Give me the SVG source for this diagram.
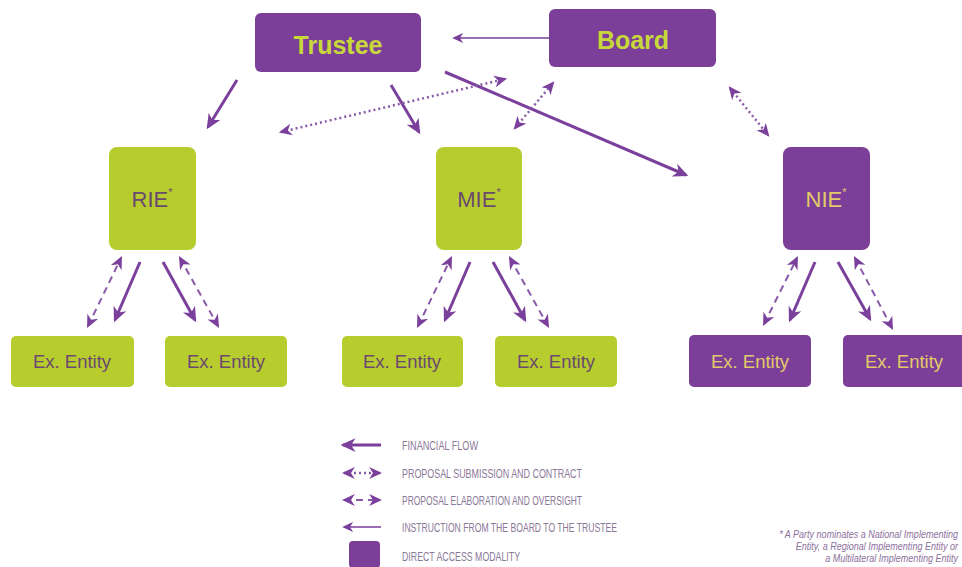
<svg xmlns="http://www.w3.org/2000/svg" width="962" height="567" viewBox="0 0 962 567">
<style>
.p{fill:#7c3f99}
.g{fill:#b7cd2e}
.big{font-family:"Liberation Sans",Arial,sans-serif;font-weight:bold;font-size:25px;fill:#c8d83a;text-anchor:middle}
.mid{font-family:"Liberation Sans",Arial,sans-serif;font-size:22px;text-anchor:middle}
.ent{font-family:"Liberation Sans",Arial,sans-serif;font-size:18.5px;text-anchor:middle}
.gt{fill:#6a4a6e}
.pt{fill:#e2c96a}
.sol{stroke:#7b3f9c;stroke-width:3;fill:none;marker-end:url(#ah)}
.dot{stroke:#8a5aa8;stroke-width:2.5;stroke-dasharray:2 3;fill:none;marker-end:url(#ah2);marker-start:url(#ah2)}
.dsh{stroke:#8a5aa8;stroke-width:2;stroke-dasharray:7 5;fill:none;marker-end:url(#ah2);marker-start:url(#ah2)}
.thin{stroke:#7b3f9c;stroke-width:1.6;fill:none;marker-end:url(#ah3)}
.leg{font-family:"Liberation Sans",Arial,sans-serif;font-size:13.5px;fill:#8a7898}
.fn{font-family:"Liberation Sans",Arial,sans-serif;font-style:italic;font-size:10.5px;fill:#8c6f9c;text-anchor:end}
</style>
<defs>
<marker id="ah" viewBox="0 0 12 12" refX="10" refY="6" markerWidth="15" markerHeight="15" markerUnits="userSpaceOnUse" orient="auto-start-reverse">
<path d="M0,0.5 L12,6 L0,11.5 L3.5,6 z" fill="#7b3f9c"/>
</marker>
<marker id="ah2" viewBox="0 0 12 12" refX="10" refY="6" markerWidth="13" markerHeight="13" markerUnits="userSpaceOnUse" orient="auto-start-reverse">
<path d="M0,0.5 L12,6 L0,11.5 L3.5,6 z" fill="#7b3f9c"/>
</marker>
<marker id="ah3" viewBox="0 0 12 12" refX="10" refY="6" markerWidth="11" markerHeight="11" markerUnits="userSpaceOnUse" orient="auto-start-reverse">
<path d="M0,0.5 L12,6 L0,11.5 L3.5,6 z" fill="#7b3f9c"/>
</marker>
</defs>
<rect width="962" height="567" fill="#ffffff"/>

<g id="connectors">
<line class="thin" x1="550" y1="38" x2="454" y2="38"/>
<line class="sol" x1="237" y1="80" x2="208" y2="127"/>
<line class="sol" x1="391" y1="85" x2="419" y2="132"/>
<line class="sol" x1="445" y1="72" x2="686" y2="175"/>
<line class="dot" x1="281" y1="132" x2="505" y2="79"/>
<line class="dot" x1="515" y1="128" x2="553" y2="83"/>
<line class="dot" x1="730" y1="88" x2="768" y2="135"/>

<line class="dsh" x1="88" y1="326" x2="121" y2="258"/>
<line class="sol" x1="140" y1="262" x2="115" y2="320"/>
<line class="sol" x1="163" y1="262" x2="195" y2="320"/>
<line class="dsh" x1="180" y1="258" x2="218" y2="326"/>

<line class="dsh" x1="418" y1="326" x2="451" y2="258"/>
<line class="sol" x1="470" y1="262" x2="445" y2="320"/>
<line class="sol" x1="493" y1="262" x2="525" y2="320"/>
<line class="dsh" x1="510" y1="258" x2="548" y2="326"/>

<line class="dsh" x1="764" y1="324" x2="797" y2="258"/>
<line class="sol" x1="815" y1="262" x2="790" y2="320"/>
<line class="sol" x1="838" y1="262" x2="870" y2="319"/>
<line class="dsh" x1="855" y1="258" x2="892" y2="328"/>
</g>

<g id="trustee"><rect class="p" x="255" y="13" width="166" height="59" rx="6"/><text class="big" x="338" y="54">Trustee</text></g>
<g id="board"><rect class="p" x="549" y="9" width="167" height="58" rx="6"/><text class="big" x="633" y="49">Board</text></g>

<g id="rie"><rect class="g" x="109" y="147" width="87" height="103" rx="8"/><text class="mid gt" x="152" y="207">RIE<tspan font-size="11" dy="-11">*</tspan></text></g>
<g id="mie"><rect class="g" x="436" y="147" width="86" height="103" rx="8"/><text class="mid gt" x="479" y="207">MIE<tspan font-size="11" dy="-11">*</tspan></text></g>
<g id="nie"><rect class="p" x="783" y="147" width="87" height="103" rx="8"/><text class="mid pt" x="826" y="207">NIE<tspan font-size="11" dy="-11">*</tspan></text></g>

<g id="ex1"><rect class="g" x="11" y="336" width="123" height="51" rx="5"/><text class="ent gt" x="72" y="368">Ex. Entity</text></g>
<g id="ex2"><rect class="g" x="165" y="336" width="122" height="51" rx="5"/><text class="ent gt" x="226" y="368">Ex. Entity</text></g>
<g id="ex3"><rect class="g" x="342" y="336" width="121" height="51" rx="5"/><text class="ent gt" x="402" y="368">Ex. Entity</text></g>
<g id="ex4"><rect class="g" x="495" y="336" width="122" height="51" rx="5"/><text class="ent gt" x="556" y="368">Ex. Entity</text></g>
<g id="ex5"><rect class="p" x="689" y="335" width="122" height="52" rx="5"/><text class="ent pt" x="750" y="368">Ex. Entity</text></g>
<g id="ex6"><rect class="p" x="843" y="335" width="125" height="52" rx="5"/><text class="ent pt" x="904" y="368">Ex. Entity</text></g>

<g id="legend">
<line class="sol" x1="381" y1="445" x2="343" y2="445"/>
<text class="leg" x="402" y="450" textLength="76" lengthAdjust="spacingAndGlyphs">FINANCIAL FLOW</text>
<line class="dot" x1="344" y1="473" x2="380" y2="473"/>
<text class="leg" x="402" y="478" textLength="180" lengthAdjust="spacingAndGlyphs">PROPOSAL SUBMISSION AND CONTRACT</text>
<line class="dsh" x1="344" y1="500" x2="380" y2="500"/>
<text class="leg" x="402" y="505" textLength="180" lengthAdjust="spacingAndGlyphs">PROPOSAL ELABORATION AND OVERSIGHT</text>
<line class="thin" x1="381" y1="527" x2="344" y2="527"/>
<text class="leg" x="402" y="532" textLength="215" lengthAdjust="spacingAndGlyphs">INSTRUCTION FROM THE BOARD TO THE TRUSTEE</text>
<rect class="p" x="349" y="541" width="31" height="27" rx="4"/>
<text class="leg" x="402" y="561" textLength="118" lengthAdjust="spacingAndGlyphs">DIRECT ACCESS MODALITY</text>
</g>

<g id="footnote">
<text class="fn" transform="translate(958,538) scale(0.86,1)">* A Party nominates a National Implementing</text>
<text class="fn" transform="translate(958,550) scale(0.86,1)">Entity, a Regional Implementing Entity or</text>
<text class="fn" transform="translate(958,562) scale(0.86,1)">a Multilateral Implementing Entity</text>
</g>
</svg>
